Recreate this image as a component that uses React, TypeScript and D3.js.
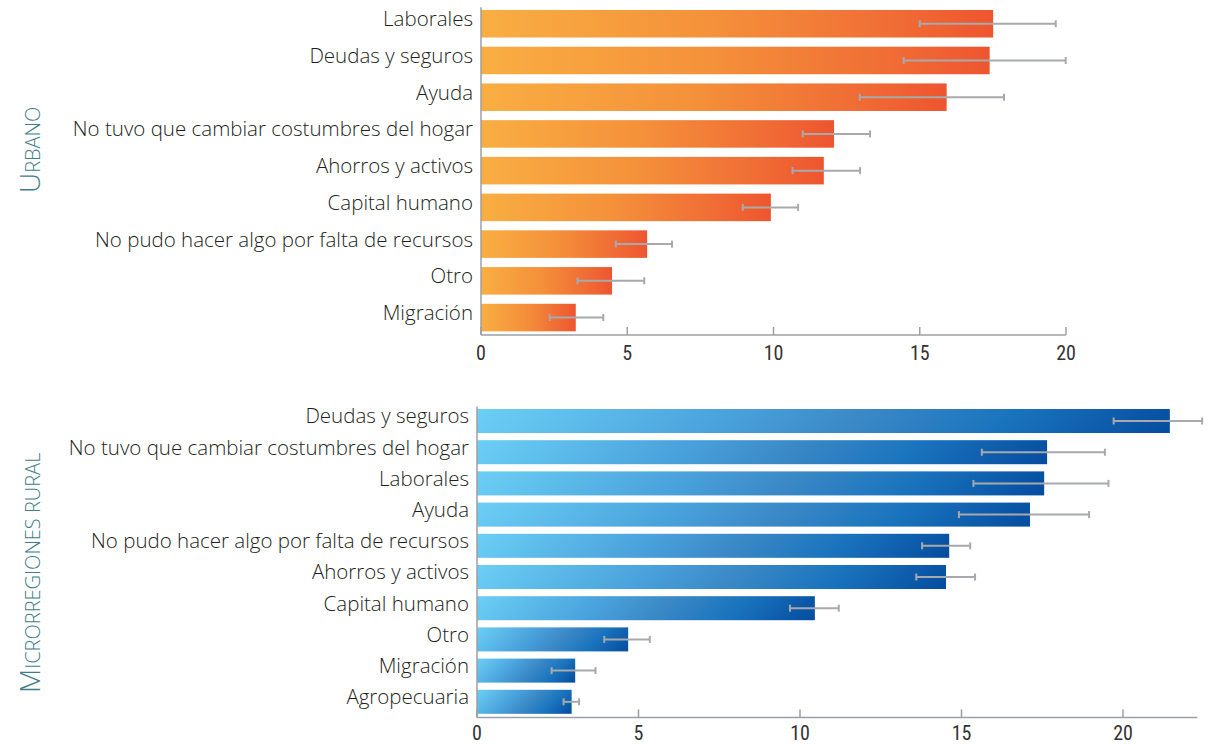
import React from "react";
import * as d3 from "d3";

const urbanCategories = [
  "Laborales",
  "Deudas y seguros",
  "Ayuda",
  "No tuvo que cambiar costumbres del hogar",
  "Ahorros y activos",
  "Capital humano",
  "No pudo hacer algo por falta de recursos",
  "Otro",
  "Migración",
];
const urbanValues = [17.51, 17.39, 15.92, 12.07, 11.72, 9.91, 5.68, 4.48, 3.24];
const urbanLow = [15.0, 14.45, 12.95, 11.0, 10.65, 8.95, 4.61, 3.3, 2.35];
const urbanHigh = [19.65, 19.99, 17.88, 13.3, 12.96, 10.84, 6.53, 5.58, 4.18];

const ruralCategories = [
  "Deudas y seguros",
  "No tuvo que cambiar costumbres del hogar",
  "Laborales",
  "Ayuda",
  "No pudo hacer algo por falta de recursos",
  "Ahorros y activos",
  "Capital humano",
  "Otro",
  "Migración",
  "Agropecuaria",
];
const ruralValues = [21.45, 17.65, 17.56, 17.12, 14.62, 14.52, 10.46, 4.68, 3.04, 2.93];
const ruralLow = [19.71, 15.63, 15.37, 14.92, 13.78, 13.6, 9.69, 3.94, 2.31, 2.68];
const ruralHigh = [22.45, 19.44, 19.55, 18.95, 15.27, 15.42, 11.2, 5.35, 3.67, 3.16];

const tickValues = [0, 5, 10, 15, 20];

const LABEL_FONT = "'Open Sans', Roboto, sans-serif";
const TICK_FONT = "'Liberation Sans Narrow', 'Roboto Condensed', 'DejaVu Sans Condensed', sans-serif";
const AXIS_COLOR = "#9d9fa2";
const ERR_COLOR = "#a7a9ac";
const TITLE_COLOR = "#3f7d87";

type PanelProps = {
  categories: string[];
  values: number[];
  low: number[];
  high: number[];
  x0: number;
  x1: number;
  domainMax: number;
  y0: number;
  y1: number;
  padInner: number;
  padOuter: number;
  kind: "orange" | "blue";
  idPrefix: string;
  fontSize: number;
  tickDy: number;
};

function Panel(p: PanelProps) {
  const x = d3.scaleLinear().domain([0, p.domainMax]).range([p.x0, p.x1]);
  const y = d3
    .scaleBand<string>()
    .domain(p.categories)
    .range([p.y0, p.y1])
    .paddingInner(p.padInner)
    .paddingOuter(p.padOuter);
  const bw = y.bandwidth();
  return (
    <g>
      <defs>
        {p.categories.map((c, i) => {
          const id = `${p.idPrefix}${i}`;
          if (p.kind === "orange") {
            return (
              <linearGradient key={id} id={id} x1="0" y1="0" x2="1" y2="0">
                <stop offset="0" stopColor="#f9ae42" />
                <stop offset="0.45" stopColor="#f4913a" />
                <stop offset="0.8" stopColor="#f06d35" />
                <stop offset="1" stopColor="#ee552f" />
              </linearGradient>
            );
          }
          const bx = x(0);
          const by = y(c) as number;
          const w = x(p.values[i]) - x(0);
          const d = (w + bw) / 2;
          return (
            <linearGradient
              key={id}
              id={id}
              gradientUnits="userSpaceOnUse"
              x1={bx}
              y1={by}
              x2={bx + d}
              y2={by + d}
            >
              <stop offset="0" stopColor="#6ccff5" />
              <stop offset="0.35" stopColor="#4aa3dc" />
              <stop offset="0.55" stopColor="#3a88c6" />
              <stop offset="0.75" stopColor="#1a74bd" />
              <stop offset="1" stopColor="#054c9f" />
            </linearGradient>
          );
        })}
      </defs>
      {p.categories.map((c, i) => {
        const by = y(c) as number;
        const cy = by + bw / 2;
        return (
          <g key={c}>
            <rect
              x={x(0)}
              y={by}
              width={x(p.values[i]) - x(0)}
              height={bw}
              fill={`url(#${p.idPrefix}${i})`}
            />
            <line x1={x(p.low[i])} x2={x(p.high[i])} y1={cy} y2={cy} stroke={ERR_COLOR} strokeWidth={2} />
            <line x1={x(p.low[i])} x2={x(p.low[i])} y1={cy - 3.5} y2={cy + 3.5} stroke={ERR_COLOR} strokeWidth={2} />
            <line x1={x(p.high[i])} x2={x(p.high[i])} y1={cy - 3.5} y2={cy + 3.5} stroke={ERR_COLOR} strokeWidth={2} />
            <text
              x={x(0) - 8}
              y={cy - 3}
              textAnchor="end"
              dominantBaseline="middle"
              fontFamily={LABEL_FONT}
              fontWeight={300}
              fontSize={p.fontSize}
              fill="#231f20"
            >
              {c}
            </text>
          </g>
        );
      })}
      <line x1={x(0)} x2={x(0)} y1={p.y0 + 1} y2={p.y1} stroke={AXIS_COLOR} strokeWidth={1.5} />
      <line x1={x(0)} x2={p.x1} y1={p.y1} y2={p.y1} stroke={AXIS_COLOR} strokeWidth={1.5} />
      {tickValues.map((t) => (
        <g key={t}>
          <line x1={x(t)} x2={x(t)} y1={p.y1} y2={p.y1 - 8} stroke={AXIS_COLOR} strokeWidth={1.5} />
          <text
            x={x(t)}
            y={p.y1 + p.tickDy}
            textAnchor="middle"
            fontFamily={TICK_FONT}
            fontSize={20}
            fill="#333333"
          >
            {t}
          </text>
        </g>
      ))}
    </g>
  );
}

function SideTitle({ x, y, first, rest }: { x: number; y: number; first: string; rest: string }) {
  return (
    <text
      transform={`translate(${x},${y}) rotate(-90)`}
      fontFamily={LABEL_FONT}
      fontWeight={300}
      fill={TITLE_COLOR}
    >
      <tspan fontSize={28}>{first}</tspan>
      <tspan fontSize={20}>{rest}</tspan>
    </text>
  );
}

export default function App() {
  const urbanMax = 20;
  const ruralMax = 22.3;
  return (
    <svg
      width={1209}
      height={746}
      style={{ position: "absolute", left: 0, top: 0, display: "block", background: "#fff" }}
    >
      <SideTitle x={40} y={193} first="U" rest="RBANO" />
      <SideTitle x={40} y={693} first="M" rest="ICRORREGIONES RURAL" />
      <Panel
        categories={urbanCategories}
        values={urbanValues}
        low={urbanLow}
        high={urbanHigh}
        x0={481}
        x1={1066}
        domainMax={urbanMax}
        y0={6.3}
        y1={335}
        padInner={0.25}
        padOuter={0.1}
        kind="orange"
        idPrefix="gu"
        fontSize={20.5}
        tickDy={25}
      />
      <Panel
        categories={ruralCategories}
        values={ruralValues}
        low={ruralLow}
        high={ruralHigh}
        x0={477}
        x1={477 + 32.3 * ruralMax}
        domainMax={ruralMax}
        y0={405.4}
        y1={717.4}
        padInner={0.23}
        padOuter={0.115}
        kind="blue"
        idPrefix="gr"
        fontSize={20.5}
        tickDy={23}
      />
    </svg>
  );
}
